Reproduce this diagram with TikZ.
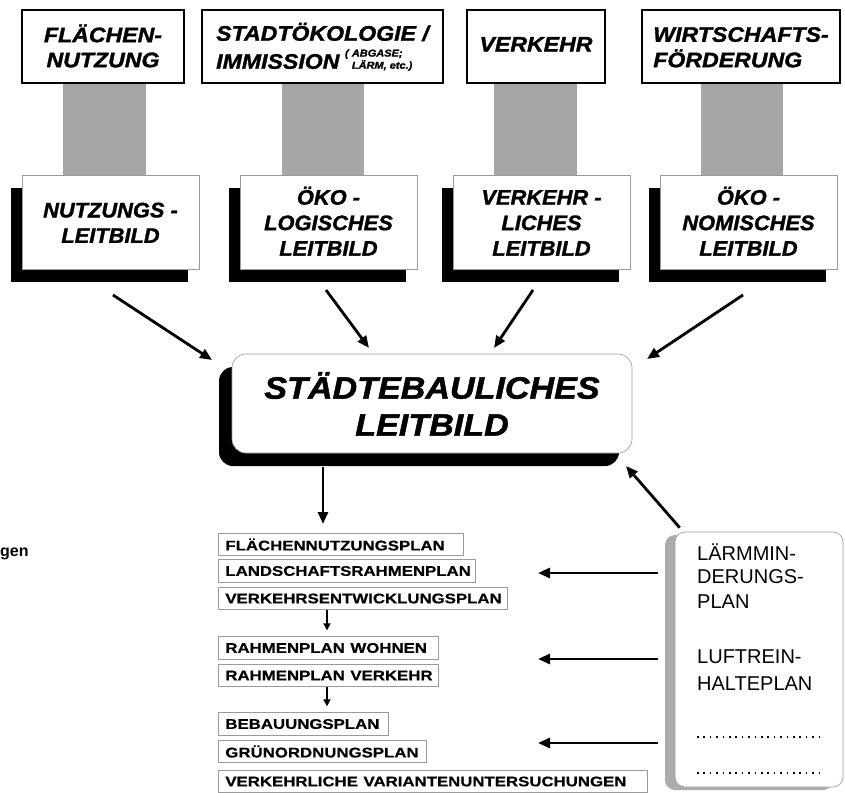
\documentclass[tikz,border=0pt]{standalone}
\usepackage{fontspec}
\usepackage{graphicx}
\setmainfont{Liberation Sans}
\newfontfamily\heavyfont{Liberation Sans}[FakeBold=1.4]
\newfontfamily\listfont{Liberation Sans}[FakeBold=0.5]
\usetikzlibrary{arrows.meta,shadows,calc}
\newcommand{\stk}[3]{\scalebox{#1}[1]{\begin{tabular}{@{}#2@{}}#3\end{tabular}}}
\newcommand{\lowr}[2]{\raisebox{-#1}[\height][\depth]{#2}}
\definecolor{bargray}{HTML}{A6A6A6}
\definecolor{edgegray}{HTML}{9A9A9A}
\begin{document}
\begin{tikzpicture}[x=1pt,y=-1pt,
  topbox/.style={draw=black, line width=2.6pt, fill=white, inner sep=0pt,
    font=\heavyfont\bfseries\itshape\fontsize{21}{25}\selectfont},
  bar/.style={fill=bargray, draw=none},
  midbox/.style={draw=edgegray, line width=0.6pt, fill=white, inner sep=0pt,
    minimum width=177pt, minimum height=94pt,
    font=\heavyfont\bfseries\itshape\fontsize{21}{25.5}\selectfont,
    drop shadow={shadow xshift=-11pt, shadow yshift=-13pt, fill=black, opacity=1}},
  centerbox/.style={draw=edgegray, line width=0.6pt, fill=white, inner sep=0pt,
    rounded corners=14pt, minimum width=400pt, minimum height=99pt,
    font=\heavyfont\bfseries\itshape\fontsize{31}{37}\selectfont,
    drop shadow={shadow xshift=-13pt, shadow yshift=-13pt, fill=black, opacity=1}},
  listbox/.style={draw=edgegray, line width=0.8pt, anchor=west, inner xsep=7pt,
    inner ysep=0pt, minimum height=22.5pt, align=left,
    font=\listfont\bfseries\fontsize{14}{16}\selectfont},
  rightbox/.style={draw=edgegray, line width=0.6pt, fill=white, inner sep=0pt,
    rounded corners=10pt, minimum width=168pt, minimum height=255pt,
    drop shadow={shadow xshift=-10pt, shadow yshift=-3pt, fill=gray!65, opacity=1}},
  righttext/.style={anchor=base west, inner sep=0pt, font=\fontsize{20}{24}\selectfont},
  bigarrow/.style={line width=2.8pt, -{Triangle[length=12pt,width=10pt]}},
  smallarrow/.style={line width=2pt, -{Triangle[length=7pt,width=7pt]}}
]
\useasboundingbox (0,0) rectangle (845,792);

% gray connecting bars
\fill[bar] (63,83) rectangle (146,176);
\fill[bar] (282,83) rectangle (364,176);
\fill[bar] (494,83) rectangle (577,176);
\fill[bar] (701,83) rectangle (783,176);

% top boxes
\node[topbox, minimum width=162pt, minimum height=73pt] (t1) at (103,46.5)
  {\lowr{3pt}{\stk{1.1}{c}{FLÄCHEN-\\NUTZUNG}}};
\node[topbox, minimum width=241pt, minimum height=73pt] (t2) at (322.5,46.5)
  {\lowr{3pt}{\stk{1.1}{l}{STADTÖKOLOGIE /\\IMMISSION\hspace{5pt}{\fontsize{10}{12}\selectfont\raisebox{12pt}{(}\hspace{3pt}\begin{tabular}[b]{@{}l@{}}ABGASE;\\LÄRM, etc.)\end{tabular}}}}};
\node[topbox, minimum width=138pt, minimum height=73pt] (t3) at (536,46.5)
  {\stk{1.1}{c}{VERKEHR}};
\node[topbox, minimum width=198pt, minimum height=73pt] (t4) at (741,46.5)
  {\lowr{3pt}{\stk{1.1}{l}{WIRTSCHAFTS-\\FÖRDERUNG}}};

% second row
\node[midbox] (m1) at (110.5,222) {\lowr{3pt}{\stk{1.04}{c}{NUTZUNGS~-\\LEITBILD}}};
\node[midbox] (m2) at (328.5,222) {\lowr{3pt}{\stk{1.04}{c}{ÖKO -\\LOGISCHES\\LEITBILD}}};
\node[midbox] (m3) at (541.5,222) {\lowr{3pt}{\stk{1.04}{c}{VERKEHR -\\LICHES\\LEITBILD}}};
\node[midbox] (m4) at (748.5,222) {\lowr{3pt}{\stk{1.04}{c}{ÖKO -\\NOMISCHES\\LEITBILD}}};

% central box
\node[centerbox] (c) at (432,403.5) {\lowr{6pt}{\stk{1.1}{c}{STÄDTEBAULICHES\\LEITBILD}}};

% arrows into central box
\coordinate (a1s) at (113,295); \coordinate (a1e) at (212,360);
\coordinate (a2s) at (326,290); \coordinate (a2e) at (369,348);
\coordinate (a3s) at (533,290); \coordinate (a3e) at (494,348);
\coordinate (a4s) at (743,295); \coordinate (a4e) at (647,359);
\draw[bigarrow] (a1s) -- (a1e);
\draw[bigarrow] (a2s) -- (a2e);
\draw[bigarrow] (a3s) -- (a3e);
\draw[bigarrow] (a4s) -- (a4e);

% list of plans
\node[listbox, text width=231pt] (l1) at (218,544.5) {\scalebox{1.2}[1]{FLÄCHENNUTZUNGSPLAN}};
\node[listbox, text width=243pt] (l2) at (218,571) {\scalebox{1.2}[1]{LANDSCHAFTSRAHMENPLAN}};
\node[listbox, text width=275pt] (l3) at (218,598.5) {\scalebox{1.2}[1]{VERKEHRSENTWICKLUNGSPLAN}};
\node[listbox, text width=206pt] (l4) at (218,648) {\scalebox{1.2}[1]{RAHMENPLAN WOHNEN}};
\node[listbox, text width=206pt] (l5) at (218,675.5) {\scalebox{1.2}[1]{RAHMENPLAN VERKEHR}};
\node[listbox, text width=156pt] (l6) at (218,724) {\scalebox{1.2}[1]{BEBAUUNGSPLAN}};
\node[listbox, text width=194pt] (l7) at (218,751.5) {\scalebox{1.2}[1]{GRÜNORDNUNGSPLAN}};
\node[listbox, text width=415pt] (l8) at (218,781.5) {\scalebox{1.2}[1]{VERKEHRLICHE VARIANTENUNTERSUCHUNGEN}};

% vertical arrows
\coordinate (d0e) at (323,524);
\draw[bigarrow] (323,467) -- (d0e);
\draw[smallarrow] (l3.south -| 327,0) -- ($(l4.north -| 327,0)+(0,-6)$);
\draw[smallarrow] (l5.south -| 327,0) -- ($(l6.north -| 327,0)+(0,-6)$);

% right box
\node[rightbox] (r) at (759,659.5) {};
\node[righttext] (r1) at (697,560) {LÄRMMIN-};
\node[righttext] (r2) at (697,583) {DERUNGS-};
\node[righttext] (r3) at (697,608) {PLAN};
\node[righttext] (r4) at (697,663) {LUFTREIN-};
\node[righttext] (r5) at (697,690) {HALTEPLAN};
\draw[line width=1.6pt, dash pattern=on 1.6pt off 4.8pt] (697,737) -- (821,737);
\draw[line width=1.6pt, dash pattern=on 1.6pt off 4.8pt] (697,773) -- (821,773);

% arrows from right box
\coordinate (h1s) at (658,573); \coordinate (h1e) at (538,573);
\coordinate (h2s) at (658,659); \coordinate (h2e) at (538,659);
\coordinate (h3s) at (658,743); \coordinate (h3e) at (538,743);
\draw[bigarrow] (h1s) -- (h1e);
\draw[bigarrow] (h2s) -- (h2e);
\draw[bigarrow] (h3s) -- (h3e);
\coordinate (ue) at (626,466);
\draw[bigarrow] ([shift={(5,-4)}]r.north west) -- (ue);

% cropped label at left edge
\node[anchor=base west, inner sep=0pt, font=\bfseries\fontsize{16}{18}\selectfont] (gen) at (0,556) {gen};
\end{tikzpicture}
\end{document}
